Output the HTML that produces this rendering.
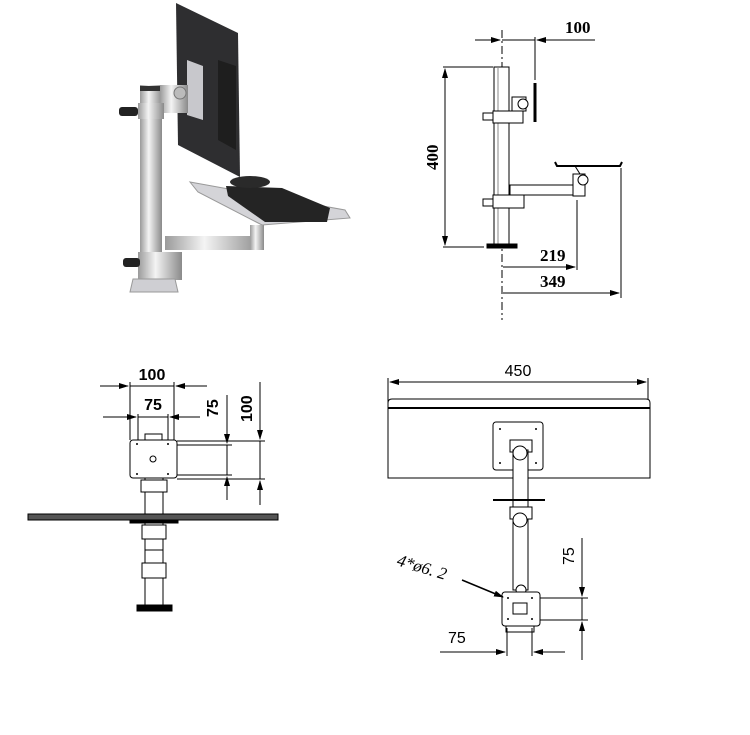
<!DOCTYPE html>
<html><head><style>
html,body{margin:0;padding:0;background:#fff;}
svg{display:block;font-family:"Liberation Sans",sans-serif;}
</style></head><body>
<svg width="750" height="735" viewBox="0 0 750 735" xmlns="http://www.w3.org/2000/svg">
<defs>
<marker id="a" markerWidth="10" markerHeight="6" refX="9" refY="3" orient="auto" markerUnits="userSpaceOnUse"><path d="M0,0L10,3L0,6z" fill="#000"/></marker>
<linearGradient id="m" x1="0" x2="1"><stop offset="0" stop-color="#9a9a9a"/><stop offset=".4" stop-color="#f4f4f4"/><stop offset="1" stop-color="#8a8a8a"/></linearGradient>
</defs>
<!-- photo -->
<polygon points="176,3 238,33 240,177 178,145" fill="#2e2e30"/>
<polygon points="218,60 236,66 236,150 218,140" fill="#1e1e1e"/>
<polygon points="187,60 203,66 203,120 187,115" fill="#c8c8cc"/>
<polygon points="190,182 345,210 350,218 262,225 198,192" fill="#d4d4d8" stroke="#999" stroke-width="1"/>
<polygon points="226,186 282,188 330,208 327,222 265,222 228,196" fill="#242424"/>
<ellipse cx="250" cy="182" rx="20" ry="6" fill="#2a2a2a"/>
<rect x="165" y="236" width="98" height="14" fill="url(#m)"/>
<rect x="250" y="225" width="14" height="25" fill="url(#m)"/>
<rect x="140" y="85" width="22" height="195" fill="url(#m)"/>
<rect x="140" y="86" width="22" height="5" fill="#333"/>
<rect x="160" y="85" width="28" height="28" fill="url(#m)"/>
<circle cx="180" cy="93" r="6" fill="#bbb" stroke="#777"/>
<rect x="138" y="103" width="26" height="16" fill="url(#m)"/>
<rect x="119" y="107" width="19" height="9" rx="3" fill="#222"/>
<rect x="138" y="252" width="44" height="28" fill="url(#m)"/>
<rect x="123" y="258" width="17" height="9" rx="3" fill="#222"/>
<polygon points="133,279 175,279 178,292 130,292" fill="#cfcfd3" stroke="#999"/>
<!-- top-right drawing -->
<g stroke="#000" fill="none" stroke-width="1">
<line x1="502" y1="30" x2="502" y2="320" stroke-dasharray="8,3,2,3"/>
<rect x="494" y="67" width="15" height="178" fill="#fff"/>
<line x1="498" y1="67" x2="498" y2="245" stroke="#888"/>
<rect x="487" y="244" width="30" height="4" fill="#000"/>
<rect x="493" y="111" width="30" height="12" fill="#fff"/>
<rect x="483" y="113" width="10" height="7" fill="#fff"/>
<rect x="512" y="97" width="14" height="14" fill="#fff"/>
<circle cx="523" cy="104" r="5" fill="#fff"/>
<line x1="535" y1="83" x2="535" y2="122" stroke-width="3"/>
<rect x="493" y="195" width="31" height="13" fill="#fff"/>
<rect x="483" y="199" width="10" height="7" fill="#fff"/>
<rect x="510" y="185" width="72" height="10" fill="#fff"/>
<rect x="573" y="174" width="12" height="22" fill="#fff"/>
<circle cx="583" cy="180" r="5" fill="#fff"/>
<path d="M555,162 L557,166 L620,166 L622,162" stroke-width="2"/>
<line x1="575" y1="166" x2="580" y2="174"/>
<line x1="475" y1="40" x2="500" y2="40" marker-end="url(#a)"/>
<line x1="595" y1="40" x2="537" y2="40" marker-end="url(#a)"/>
<line x1="502" y1="40" x2="535" y2="40"/>
<line x1="535" y1="37" x2="535" y2="80"/>
<line x1="443" y1="67" x2="493" y2="67"/>
<line x1="443" y1="247" x2="484" y2="247"/>
<line x1="445" y1="155" x2="445" y2="69" marker-end="url(#a)"/>
<line x1="445" y1="155" x2="445" y2="245" marker-end="url(#a)"/>
<line x1="503" y1="267" x2="575" y2="267" marker-end="url(#a)"/>
<line x1="577" y1="200" x2="577" y2="270"/>
<line x1="503" y1="293" x2="619" y2="293" marker-end="url(#a)"/>
<line x1="621" y1="168" x2="621" y2="298"/>
</g>
<g font-family="Liberation Serif,serif" font-weight="bold" font-size="17" fill="#000">
<text x="565" y="33">100</text>
<text x="540" y="261">219</text>
<text x="540" y="287">349</text>
<text transform="translate(438,170) rotate(-90)">400</text>
</g>
<!-- bottom-left -->
<g stroke="#000" fill="none" stroke-width="1">
<line x1="100" y1="386" x2="128" y2="386" marker-end="url(#a)"/>
<line x1="207" y1="386" x2="176" y2="386" marker-end="url(#a)"/>
<line x1="130" y1="386" x2="174" y2="386"/>
<line x1="130" y1="382" x2="130" y2="440"/>
<line x1="174" y1="382" x2="174" y2="440"/>
<line x1="103" y1="417" x2="136" y2="417" marker-end="url(#a)"/>
<line x1="200" y1="417" x2="170" y2="417" marker-end="url(#a)"/>
<line x1="138" y1="417" x2="168" y2="417"/>
<line x1="138" y1="414" x2="138" y2="440"/>
<line x1="168" y1="414" x2="168" y2="440"/>
<rect x="145" y="434" width="17" height="6" fill="#fff"/>
<rect x="130" y="440" width="47" height="38" rx="3" fill="#fff"/>
<circle cx="153" cy="459" r="3"/>
<line x1="145" y1="478" x2="145" y2="514"/><line x1="163" y1="478" x2="163" y2="514"/>
<rect x="141" y="480" width="26" height="12" fill="#fff"/>
<rect x="28" y="514" width="250" height="6" fill="#555" stroke="#000"/>
<rect x="130" y="520" width="48" height="3" fill="#000"/>
<rect x="145" y="523" width="18" height="82" fill="#fff"/>
<rect x="142" y="525" width="24" height="14" fill="#fff"/>
<rect x="142" y="563" width="24" height="15" fill="#fff"/>
<line x1="145" y1="550" x2="163" y2="550"/>
<rect x="137" y="605" width="35" height="6" fill="#000"/>
<line x1="177" y1="441" x2="265" y2="441"/><line x1="177" y1="445" x2="232" y2="445"/>
<line x1="177" y1="475" x2="232" y2="475"/><line x1="177" y1="479" x2="265" y2="479"/>
<line x1="227" y1="395" x2="227" y2="443" marker-end="url(#a)"/>
<line x1="227" y1="500" x2="227" y2="477" marker-end="url(#a)"/>
<line x1="227" y1="445" x2="227" y2="475"/>
<line x1="260" y1="382" x2="260" y2="439" marker-end="url(#a)"/>
<line x1="260" y1="505" x2="260" y2="481" marker-end="url(#a)"/>
<line x1="260" y1="441" x2="260" y2="479"/>
</g>
<g font-family="Liberation Sans,sans-serif" font-weight="bold" font-size="16" fill="#000">
<text x="152" y="380" text-anchor="middle">100</text>
<text x="153" y="410" text-anchor="middle">75</text>
<text transform="translate(218,417) rotate(-90)">75</text>
<text transform="translate(252,422) rotate(-90)">100</text>
</g>
<!-- bottom-right -->
<g stroke="#000" fill="none" stroke-width="1">
<line x1="388" y1="378" x2="388" y2="410"/><line x1="648" y1="378" x2="648" y2="410"/>
<line x1="518" y1="382" x2="390" y2="382" marker-end="url(#a)"/>
<line x1="518" y1="382" x2="646" y2="382" marker-end="url(#a)"/>
<path d="M388,478 L388,403 Q388,399 392,399 L646,399 Q650,399 650,403 L650,478 Z" fill="#fff"/>
<line x1="388" y1="408" x2="650" y2="408" stroke-width="2"/>
<rect x="493" y="422" width="50" height="48" rx="3" fill="#fff"/>
<rect x="510" y="440" width="22" height="12" fill="#fff"/>
<rect x="513" y="450" width="15" height="140" fill="#fff"/>
<circle cx="520" cy="453" r="7" fill="#fff"/>
<line x1="493" y1="500" x2="545" y2="500" stroke-width="2"/>
<rect x="510" y="507" width="22" height="12" fill="#fff"/>
<circle cx="520" cy="520" r="7" fill="#fff"/>
<circle cx="521" cy="590" r="5" fill="#fff"/>
<rect x="502" y="592" width="38" height="34" rx="3" fill="#fff"/>
<rect x="506" y="626" width="28" height="6" fill="#fff"/>
<rect x="513" y="603" width="14" height="11" fill="#fff"/>
<line x1="540" y1="598" x2="588" y2="598"/><line x1="540" y1="620" x2="588" y2="620"/>
<line x1="582" y1="538" x2="582" y2="596" marker-end="url(#a)"/>
<line x1="582" y1="660" x2="582" y2="622" marker-end="url(#a)"/>
<line x1="582" y1="598" x2="582" y2="620"/>
<line x1="507" y1="628" x2="507" y2="656"/><line x1="532" y1="628" x2="532" y2="656"/>
<line x1="440" y1="652" x2="505" y2="652" marker-end="url(#a)"/>
<line x1="565" y1="652" x2="534" y2="652" marker-end="url(#a)"/>
<line x1="462" y1="580" x2="503" y2="597" marker-end="url(#a)" stroke-width="1.5"/>
</g>
<g fill="#000">
<circle cx="508" cy="598" r="1"/><circle cx="532" cy="598" r="1"/><circle cx="508" cy="619" r="1"/><circle cx="532" cy="619" r="1"/>
<circle cx="500" cy="429" r="1"/><circle cx="536" cy="429" r="1"/><circle cx="500" cy="463" r="1"/><circle cx="536" cy="463" r="1"/>
<circle cx="137" cy="444" r="1"/><circle cx="168" cy="444" r="1"/><circle cx="137" cy="474" r="1"/><circle cx="168" cy="474" r="1"/>
</g>
<g font-family="Liberation Sans,sans-serif" font-size="16" fill="#000">
<text x="518" y="376" text-anchor="middle">450</text>
<text transform="translate(574,565) rotate(-90)">75</text>
<text x="448" y="643">75</text>
<text transform="translate(396,565) rotate(17)" font-style="italic" font-family="Liberation Serif,serif" font-size="17">4*ø6. 2</text>
</g>
</svg>
</body></html>
